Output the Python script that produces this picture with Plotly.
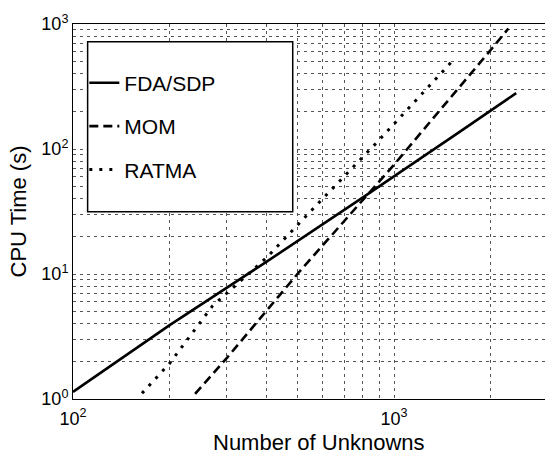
import plotly.graph_objects as go

# Data
fda_n = [100, 200, 400, 800, 1600, 2400]
fda_t = [1.14, 3.9, 12.5, 41, 137, 280]

mom_n = [240, 300, 500, 1000, 2000, 2270]
mom_t = [1.1, 2.1, 10, 75, 620, 920]

ratma_n = [164, 200, 272, 313, 403, 570, 658, 887, 1503]
ratma_t = [1.11, 1.93, 5.55, 7.7, 13.7, 35, 51.5, 114, 491]

x_tickvals = [100, 1000]
x_ticktext = ["10<sup>2</sup>", "10<sup>3</sup>"]
x_minorvals = [200, 300, 400, 500, 600, 700, 800, 900, 2000, 3000]

y_tickvals = [1, 10, 100, 1000]
y_ticktext = ["10<sup>0</sup>", "10<sup>1</sup>", "10<sup>2</sup>", "10<sup>3</sup>"]
y_minorvals = [2, 3, 4, 5, 6, 7, 8, 9, 20, 30, 40, 50, 60, 70, 80, 90,
               200, 300, 400, 500, 600, 700, 800, 900]

FONT = "Liberation Sans, Arial, Helvetica, sans-serif"

fig = go.Figure()
fig.add_trace(go.Scatter(x=fda_n, y=fda_t, mode="lines", name="FDA/SDP",
                         legendgroup="a",
                         line=dict(color="black", width=2.6, dash="solid")))
fig.add_trace(go.Scatter(x=mom_n, y=mom_t, mode="lines", name="MOM",
                         legendgroup="b",
                         line=dict(color="black", width=2.6, dash="9px,5px")))
fig.add_trace(go.Scatter(x=ratma_n, y=ratma_t, mode="lines", name="RATMA",
                         legendgroup="c",
                         line=dict(color="black", width=3, dash="3px,7px")))

GRIDC = "#555555"
grid = dict(showgrid=True, gridcolor=GRIDC, gridwidth=1, griddash="3px,4px")


def minor(vals):
    return dict(tickmode="array", tickvals=vals, showgrid=True, gridcolor=GRIDC,
                gridwidth=1, griddash="3px,4px", ticks="")


fig.update_layout(
    width=545, height=458, autosize=False,
    margin=dict(l=73, r=0, t=24, b=59),
    paper_bgcolor="white", plot_bgcolor="white",
    font=dict(family=FONT, color="black"),
    showlegend=True,
    legend=dict(
        x=0.024, y=0.897, xanchor="left", yanchor="top",
        bgcolor="rgba(0,0,0,0)", borderwidth=0,
        font=dict(size=21, family=FONT, color="black"),
        tracegroupgap=13, traceorder="grouped", itemwidth=30,
    ),
    xaxis=dict(
        type="log", range=[2, 3.47],
        tickmode="array", tickvals=x_tickvals, ticktext=x_ticktext,
        tickfont=dict(size=18, family=FONT, color="black"),
        ticks="", ticklabelstandoff=3,
        showline=True, linecolor="black", linewidth=1, mirror=True,
        zeroline=False, minor=minor(x_minorvals), **grid,
    ),
    yaxis=dict(
        type="log", range=[0, 3],
        tickmode="array", tickvals=y_tickvals, ticktext=y_ticktext,
        tickfont=dict(size=18, family=FONT, color="black"),
        ticks="", showline=True, linecolor="black", linewidth=1, mirror=False,
        zeroline=False, minor=minor(y_minorvals),
        title=dict(text="CPU Time (s)", font=dict(size=22, family=FONT, color="black"),
                   standoff=8),
        **grid,
    ),
    shapes=[dict(type="rect", xref="paper", yref="paper",
                 x0=0.031, x1=0.4655, y0=0.4995, y1=0.9528,
                 fillcolor="white", line=dict(color="black", width=1.5),
                 layer="above")],
    annotations=[dict(text="Number of Unknowns", xref="paper", yref="paper",
                      x=0.521, y=-0.117, xanchor="center", yanchor="middle",
                      showarrow=False,
                      font=dict(size=22, family=FONT, color="black"))],
)

fig.write_html("out.html", config={"displayModeBar": False},
               post_script="document.body.style.margin='0px';")
